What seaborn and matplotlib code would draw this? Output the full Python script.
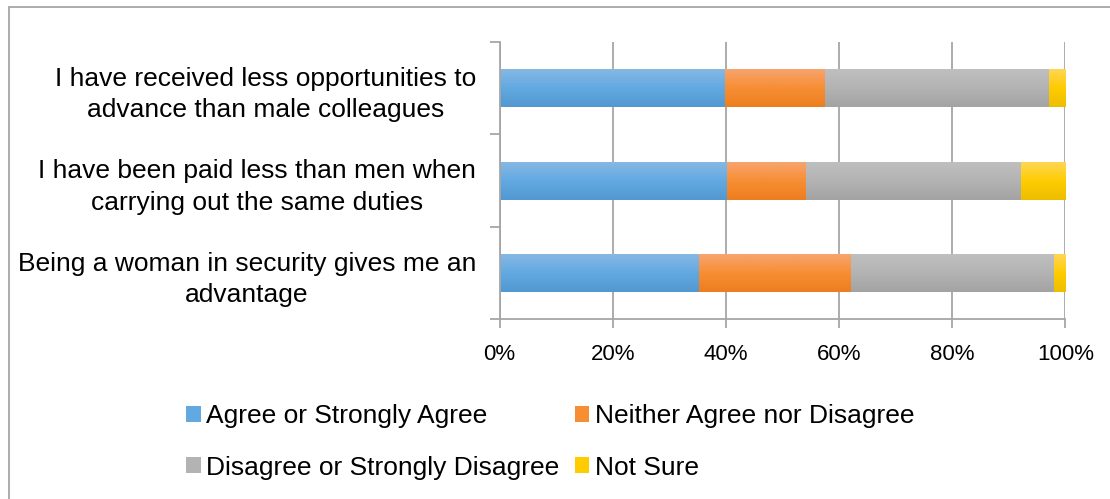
import numpy as np
import pandas as pd
import matplotlib
matplotlib.use("Agg")
import matplotlib.pyplot as plt
import seaborn as sns
from matplotlib.colors import LinearSegmentedColormap
from matplotlib.lines import Line2D
from matplotlib.patches import Patch
from matplotlib.ticker import FixedLocator, FuncFormatter

# ---------------- data ----------------
categories = [
    "I have received less opportunities to\nadvance than male colleagues",
    "I have been paid less than men when\ncarrying out the same duties",
    "Being a woman in security gives me an\nadvantage",
]
series_names = [
    "Agree or Strongly Agree",
    "Neither Agree nor Disagree",
    "Disagree or Strongly Disagree",
    "Not Sure",
]
agree = [39.6, 40.0, 35.0]
neither = [17.7, 14.0, 27.0]
disagree = [39.6, 38.0, 36.0]
not_sure = [3.1, 8.0, 2.0]
x_ticks = [0, 20, 40, 60, 80, 100]

# gradient colours (top, middle, bottom) per series
grad_colors = [
    ("#86B8E4", "#62A9E2", "#5398D0"),
    ("#F7A46E", "#F78E33", "#EC7E1F"),
    ("#BFBFBF", "#B3B3B3", "#A3A3A3"),
    ("#FFD655", "#FFCC00", "#EDBE00"),
]
mid_colors = [c[1] for c in grad_colors]

# ---------------- figure ----------------
sns.set_style("white")
plt.rcParams["font.family"] = ["Liberation Sans", "DejaVu Sans"]
plt.rcParams["text.color"] = "black"

fig = plt.figure(figsize=(11.1, 4.99), dpi=100)
ax = fig.add_axes([499.5 / 1110, 1 - 319.3 / 499, (1065.3 - 499.5) / 1110, (319.3 - 42) / 499])

values = [agree, neither, disagree, not_sure]
df = pd.DataFrame({"category": categories})
cum = np.zeros(len(categories))
lefts = []
for name, vals in zip(series_names, values):
    lefts.append(cum.copy())
    cum = cum + np.array(vals)
    df[name] = cum.copy()

bar_width = 0.41
series_patches = {}
# draw from widest cumulative to narrowest so every segment is visible
for i in reversed(range(len(series_names))):
    n0 = len(ax.patches)
    sns.barplot(data=df, x=series_names[i], y="category", orient="y",
                color=mid_colors[i], saturation=1, width=bar_width,
                ax=ax, errorbar=None, linewidth=0, order=categories)
    series_patches[i] = ax.patches[n0:]

ax.set_xlim(0, 100)
ax.set_ylim(len(categories) - 0.5, -0.5)

# turn each cumulative bar into its own stacked segment and add a vertical gradient
for i, patches in series_patches.items():
    cmap = LinearSegmentedColormap.from_list(f"g{i}", list(grad_colors[i]))
    grad = np.linspace(0, 1, 64).reshape(-1, 1)
    for j, p in enumerate(patches):
        left = lefts[i][j]
        width = values[i][j]
        p.set_x(left)
        p.set_width(width)
        y0 = p.get_y()
        h = p.get_height()
        ax.imshow(grad, cmap=cmap, extent=(left, left + width, y0 + h, y0),
                  aspect="auto", zorder=p.get_zorder() + 0.1,
                  interpolation="bicubic")

ax.set_xlim(0, 100)
ax.set_ylim(len(categories) - 0.5, -0.5)
ax.set_aspect("auto")

# ---------------- axes styling ----------------
gray = "#A6A6A6"
for s in ["top", "right"]:
    ax.spines[s].set_visible(False)
for s in ["left", "bottom"]:
    ax.spines[s].set_color(gray)
    ax.spines[s].set_linewidth(1.3)

ax.set_axisbelow(True)
ax.xaxis.grid(True, color=gray, linewidth=1.3)
ax.yaxis.grid(False)

ax.xaxis.set_major_locator(FixedLocator(x_ticks))
ax.xaxis.set_major_formatter(FuncFormatter(lambda v, _: f"{v:.0f}%"))
ax.tick_params(axis="x", which="major", direction="out", length=6.5, width=1.3,
               color=gray, labelsize=16, pad=11, labelcolor="black", bottom=True)

ax.yaxis.set_minor_locator(FixedLocator(np.arange(-0.5, len(categories), 1.0)))
ax.tick_params(axis="y", which="major", length=0, pad=17, labelsize=19, labelcolor="black")
ax.tick_params(axis="y", which="minor", direction="out", length=7, width=1.3,
               color=gray, left=True)
for lbl in ax.get_yticklabels():
    lbl.set_multialignment("center")
    lbl.set_linespacing(1.4)

ax.set_xlabel("")
ax.set_ylabel("")

# ---------------- legend ----------------
# column-wise fill: col 1 = Agree / Disagree, col 2 = Neither / Not Sure
legend_order = [0, 2, 1, 3]
handles = [Patch(facecolor=mid_colors[k], edgecolor="none") for k in legend_order]
labels = [series_names[k] for k in legend_order]
fig.legend(handles, labels, ncol=2, frameon=False, fontsize=19,
           loc="upper left", bbox_to_anchor=(186 / 1110, 1 - 404 / 499),
           bbox_transform=fig.transFigure, borderpad=0, borderaxespad=0,
           handlelength=0.55, handleheight=0.55, handletextpad=0.2,
           columnspacing=0.6, labelspacing=1.05, labelcolor="black")

# ---------------- outer frame (left & top edges visible) ----------------
fig.add_artist(Line2D([8.5 / 1110, 8.5 / 1110], [0, 1 - 7 / 499],
                      transform=fig.transFigure, color=gray, linewidth=1.3))
fig.add_artist(Line2D([8.5 / 1110, 1], [1 - 7 / 499, 1 - 7 / 499],
                      transform=fig.transFigure, color=gray, linewidth=1.3))

fig.savefig("out.png", dpi=100)
